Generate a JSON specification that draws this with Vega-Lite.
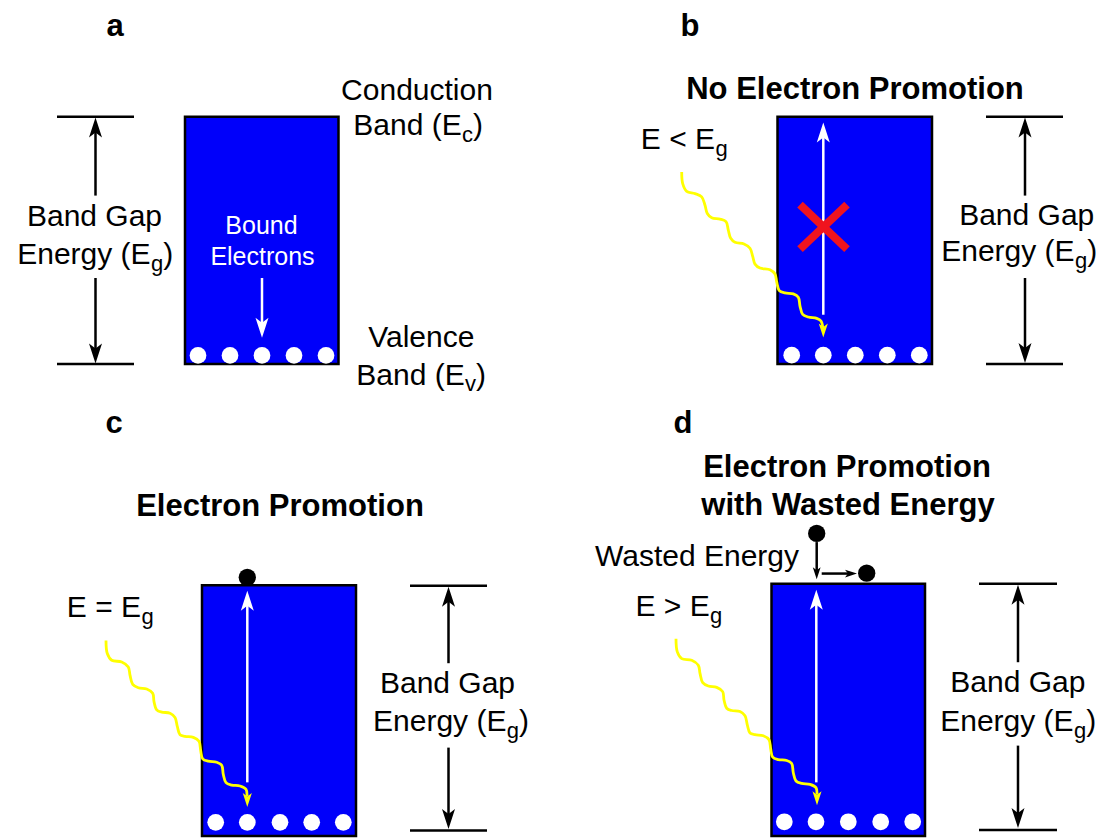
{
  "$schema": "https://vega.github.io/schema/vega-lite/v6.json",
  "width": 1112,
  "height": 838,
  "autosize": {"type": "fit", "contains": "padding"},
  "padding": 0,
  "background": "white",
  "config": {"view": {"stroke": null}},
  "datasets": {
    "boxes": [
      {"panel": "a", "x": 185, "x2": 338.5, "y": 117.5, "y2": 366.5},
      {"panel": "b", "x": 777.5, "x2": 932, "y": 117.5, "y2": 366.5},
      {"panel": "c", "x": 202, "x2": 356, "y": 589.5, "y2": 842},
      {"panel": "d", "x": 771.5, "x2": 925, "y": 588, "y2": 842}
    ],
    "blackLines": [
      {"id": "a-top", "k": 0, "x": 57, "y": 117.5}, {"id": "a-top", "k": 1, "x": 134, "y": 117.5},
      {"id": "a-bot", "k": 0, "x": 57, "y": 366.5}, {"id": "a-bot", "k": 1, "x": 134, "y": 366.5},
      {"id": "a-up", "k": 0, "x": 95.5, "y": 197}, {"id": "a-up", "k": 1, "x": 95.5, "y": 130},
      {"id": "a-dn", "k": 0, "x": 95.5, "y": 280}, {"id": "a-dn", "k": 1, "x": 95.5, "y": 355},
      {"id": "b-top", "k": 0, "x": 986, "y": 117.5}, {"id": "b-top", "k": 1, "x": 1063, "y": 117.5},
      {"id": "b-bot", "k": 0, "x": 986, "y": 366.5}, {"id": "b-bot", "k": 1, "x": 1063, "y": 366.5},
      {"id": "b-up", "k": 0, "x": 1025, "y": 197}, {"id": "b-up", "k": 1, "x": 1025, "y": 130},
      {"id": "b-dn", "k": 0, "x": 1025, "y": 280}, {"id": "b-dn", "k": 1, "x": 1025, "y": 355},
      {"id": "c-top", "k": 0, "x": 410, "y": 590}, {"id": "c-top", "k": 1, "x": 487, "y": 590},
      {"id": "c-bot", "k": 0, "x": 410, "y": 836.5}, {"id": "c-bot", "k": 1, "x": 487, "y": 836.5},
      {"id": "c-up", "k": 0, "x": 448.5, "y": 668}, {"id": "c-up", "k": 1, "x": 448.5, "y": 603},
      {"id": "c-dn", "k": 0, "x": 448.5, "y": 753}, {"id": "c-dn", "k": 1, "x": 448.5, "y": 824},
      {"id": "d-top", "k": 0, "x": 979, "y": 588}, {"id": "d-top", "k": 1, "x": 1057, "y": 588},
      {"id": "d-bot", "k": 0, "x": 979, "y": 836}, {"id": "d-bot", "k": 1, "x": 1057, "y": 836},
      {"id": "d-up", "k": 0, "x": 1018, "y": 667}, {"id": "d-up", "k": 1, "x": 1018, "y": 601},
      {"id": "d-dn", "k": 0, "x": 1018, "y": 751}, {"id": "d-dn", "k": 1, "x": 1018, "y": 823},
      {"id": "d-w1", "k": 0, "x": 816.7, "y": 546}, {"id": "d-w1", "k": 1, "x": 816.7, "y": 578},
      {"id": "d-w2", "k": 0, "x": 821.7, "y": 577.7}, {"id": "d-w2", "k": 1, "x": 852, "y": 577.7}
    ],
    "whiteLines": [
      {"id": "a", "k": 0, "x": 262, "y": 280}, {"id": "a", "k": 1, "x": 262, "y": 332},
      {"id": "b", "k": 0, "x": 823.3, "y": 317}, {"id": "b", "k": 1, "x": 823.3, "y": 136},
      {"id": "c", "k": 0, "x": 247.3, "y": 788}, {"id": "c", "k": 1, "x": 247.3, "y": 607},
      {"id": "d", "k": 0, "x": 816.3, "y": 788}, {"id": "d", "k": 1, "x": 816.3, "y": 606}
    ],
    "cross": [
      {"id": "x1", "k": 0, "x": 800, "y": 206}, {"id": "x1", "k": 1, "x": 847, "y": 251},
      {"id": "x2", "k": 0, "x": 800, "y": 251}, {"id": "x2", "k": 1, "x": 847, "y": 206}
    ],
    "photons": [
      {"id": "b", "k": 0, "x": 681.7, "y": 173.3}, {"id": "b", "k": 1, "x": 682.7, "y": 185},
      {"id": "b", "k": 2, "x": 686.7, "y": 192.7}, {"id": "b", "k": 3, "x": 695, "y": 195},
      {"id": "b", "k": 4, "x": 701.7, "y": 198.3}, {"id": "b", "k": 5, "x": 705, "y": 206.7},
      {"id": "b", "k": 6, "x": 707.3, "y": 215}, {"id": "b", "k": 7, "x": 711.7, "y": 219.3},
      {"id": "b", "k": 8, "x": 720, "y": 220.7}, {"id": "b", "k": 9, "x": 726, "y": 223.3},
      {"id": "b", "k": 10, "x": 728.3, "y": 231.7}, {"id": "b", "k": 11, "x": 730.7, "y": 240},
      {"id": "b", "k": 12, "x": 735, "y": 244}, {"id": "b", "k": 13, "x": 744, "y": 245.7},
      {"id": "b", "k": 14, "x": 750, "y": 250}, {"id": "b", "k": 15, "x": 752.7, "y": 258.3},
      {"id": "b", "k": 16, "x": 755, "y": 266}, {"id": "b", "k": 17, "x": 760, "y": 270},
      {"id": "b", "k": 18, "x": 770, "y": 271.7}, {"id": "b", "k": 19, "x": 775, "y": 276},
      {"id": "b", "k": 20, "x": 776.7, "y": 284}, {"id": "b", "k": 21, "x": 779.3, "y": 292.7},
      {"id": "b", "k": 22, "x": 785, "y": 295}, {"id": "b", "k": 23, "x": 793.3, "y": 296},
      {"id": "b", "k": 24, "x": 798.3, "y": 299.3}, {"id": "b", "k": 25, "x": 800, "y": 308.3},
      {"id": "b", "k": 26, "x": 802.7, "y": 316.7}, {"id": "b", "k": 27, "x": 808.3, "y": 319.3},
      {"id": "b", "k": 28, "x": 816.7, "y": 320.7}, {"id": "b", "k": 29, "x": 821, "y": 323.3},
      {"id": "b", "k": 30, "x": 822.8, "y": 330},
      {"id": "c", "k": 0, "x": 106, "y": 645}, {"id": "c", "k": 1, "x": 107.3, "y": 658.3},
      {"id": "c", "k": 2, "x": 111.7, "y": 665}, {"id": "c", "k": 3, "x": 121.7, "y": 666.7},
      {"id": "c", "k": 4, "x": 128.3, "y": 671.7}, {"id": "c", "k": 5, "x": 130, "y": 680},
      {"id": "c", "k": 6, "x": 132.7, "y": 689.3}, {"id": "c", "k": 7, "x": 138.3, "y": 692.7},
      {"id": "c", "k": 8, "x": 146.7, "y": 694}, {"id": "c", "k": 9, "x": 152.7, "y": 698.3},
      {"id": "c", "k": 10, "x": 154, "y": 706.7}, {"id": "c", "k": 11, "x": 156.7, "y": 715},
      {"id": "c", "k": 12, "x": 161.7, "y": 717.3}, {"id": "c", "k": 13, "x": 170, "y": 718.3},
      {"id": "c", "k": 14, "x": 175, "y": 722.7}, {"id": "c", "k": 15, "x": 177.3, "y": 731.7},
      {"id": "c", "k": 16, "x": 180, "y": 740}, {"id": "c", "k": 17, "x": 185, "y": 741.7},
      {"id": "c", "k": 18, "x": 193.3, "y": 742.7}, {"id": "c", "k": 19, "x": 199, "y": 746.7},
      {"id": "c", "k": 20, "x": 200.7, "y": 756}, {"id": "c", "k": 21, "x": 202.7, "y": 764.3},
      {"id": "c", "k": 22, "x": 208.3, "y": 766.7}, {"id": "c", "k": 23, "x": 216.7, "y": 767.7},
      {"id": "c", "k": 24, "x": 221.7, "y": 770.7}, {"id": "c", "k": 25, "x": 223.3, "y": 780},
      {"id": "c", "k": 26, "x": 226, "y": 788.3}, {"id": "c", "k": 27, "x": 231.7, "y": 790.7},
      {"id": "c", "k": 28, "x": 240, "y": 791.7}, {"id": "c", "k": 29, "x": 246, "y": 795},
      {"id": "c", "k": 30, "x": 247, "y": 802},
      {"id": "d", "k": 0, "x": 676, "y": 643.3}, {"id": "d", "k": 1, "x": 677.3, "y": 656.6},
      {"id": "d", "k": 2, "x": 681.7, "y": 663.3}, {"id": "d", "k": 3, "x": 691.7, "y": 665},
      {"id": "d", "k": 4, "x": 698.3, "y": 670}, {"id": "d", "k": 5, "x": 700, "y": 678.3},
      {"id": "d", "k": 6, "x": 702.7, "y": 687.6}, {"id": "d", "k": 7, "x": 708.3, "y": 691},
      {"id": "d", "k": 8, "x": 716.7, "y": 692.3}, {"id": "d", "k": 9, "x": 722.7, "y": 696.6},
      {"id": "d", "k": 10, "x": 724, "y": 705}, {"id": "d", "k": 11, "x": 726.7, "y": 713.3},
      {"id": "d", "k": 12, "x": 731.7, "y": 715.6}, {"id": "d", "k": 13, "x": 740, "y": 716.6},
      {"id": "d", "k": 14, "x": 745, "y": 721}, {"id": "d", "k": 15, "x": 747.3, "y": 730},
      {"id": "d", "k": 16, "x": 750, "y": 738.3}, {"id": "d", "k": 17, "x": 755, "y": 740},
      {"id": "d", "k": 18, "x": 763.3, "y": 741}, {"id": "d", "k": 19, "x": 769, "y": 745},
      {"id": "d", "k": 20, "x": 770.7, "y": 754.3}, {"id": "d", "k": 21, "x": 772.7, "y": 762.6},
      {"id": "d", "k": 22, "x": 778.3, "y": 765}, {"id": "d", "k": 23, "x": 786.7, "y": 766},
      {"id": "d", "k": 24, "x": 791.7, "y": 769}, {"id": "d", "k": 25, "x": 793.3, "y": 778.3},
      {"id": "d", "k": 26, "x": 796, "y": 786.6}, {"id": "d", "k": 27, "x": 801.7, "y": 789},
      {"id": "d", "k": 28, "x": 810, "y": 790}, {"id": "d", "k": 29, "x": 816, "y": 793.3},
      {"id": "d", "k": 30, "x": 817, "y": 800.3}
    ],
    "electrons": [
      {"state": "bound", "x": 198, "y": 358}, {"state": "bound", "x": 230, "y": 358},
      {"state": "bound", "x": 262, "y": 358}, {"state": "bound", "x": 294, "y": 358},
      {"state": "bound", "x": 326, "y": 358},
      {"state": "bound", "x": 791.7, "y": 357.7}, {"state": "bound", "x": 823.3, "y": 357.7},
      {"state": "bound", "x": 855.3, "y": 357.7}, {"state": "bound", "x": 887.3, "y": 357.7},
      {"state": "bound", "x": 919.3, "y": 357.7},
      {"state": "bound", "x": 215.7, "y": 828.3}, {"state": "bound", "x": 247.3, "y": 828.3},
      {"state": "bound", "x": 280, "y": 828.3}, {"state": "bound", "x": 311.7, "y": 828.3},
      {"state": "bound", "x": 343.3, "y": 828.3},
      {"state": "bound", "x": 784.3, "y": 827.7}, {"state": "bound", "x": 816, "y": 827.7},
      {"state": "bound", "x": 848.3, "y": 827.7}, {"state": "bound", "x": 880.7, "y": 827.7},
      {"state": "bound", "x": 912.7, "y": 827.7},
      {"state": "free", "x": 247.3, "y": 581.5},
      {"state": "free", "x": 816.7, "y": 537.3},
      {"state": "free", "x": 866.7, "y": 577.3}
    ],
    "heads": [
      {"role": "gap", "dir": "up", "x": 95.5, "y": 128.5}, {"role": "gap", "dir": "down", "x": 95.5, "y": 356},
      {"role": "gap", "dir": "up", "x": 1025, "y": 128.5}, {"role": "gap", "dir": "down", "x": 1025, "y": 355.5},
      {"role": "gap", "dir": "up", "x": 448.5, "y": 601}, {"role": "gap", "dir": "down", "x": 448.5, "y": 825},
      {"role": "gap", "dir": "up", "x": 1018, "y": 599}, {"role": "gap", "dir": "down", "x": 1018, "y": 824},
      {"role": "transition", "dir": "down", "x": 262, "y": 330},
      {"role": "transition", "dir": "up", "x": 823.3, "y": 133.5},
      {"role": "transition", "dir": "up", "x": 247.3, "y": 605},
      {"role": "transition", "dir": "up", "x": 816.3, "y": 604},
      {"role": "photon", "dir": "down", "x": 823.3, "y": 333},
      {"role": "photon", "dir": "down", "x": 247.3, "y": 805.7},
      {"role": "photon", "dir": "down", "x": 817, "y": 804},
      {"role": "waste", "dir": "down", "x": 816.7, "y": 577.5},
      {"role": "waste", "dir": "right", "x": 851, "y": 577.7}
    ],
    "labels": [
      {"role": "heading", "text": "a", "x": 115, "y": 36},
      {"role": "heading", "text": "b", "x": 690, "y": 36},
      {"role": "heading", "text": "c", "x": 114, "y": 436.5},
      {"role": "heading", "text": "d", "x": 683, "y": 436},
      {"role": "heading", "text": "No Electron Promotion", "x": 855, "y": 99.3},
      {"role": "heading", "text": "Electron Promotion", "x": 280, "y": 520},
      {"role": "heading", "text": "Electron Promotion", "x": 847, "y": 480.7},
      {"role": "heading", "text": "with Wasted Energy", "x": 848, "y": 519},
      {"role": "label", "text": "Band Gap", "x": 94.5, "y": 227.7},
      {"role": "label", "text": "Band Gap", "x": 1026.7, "y": 226.7},
      {"role": "label", "text": "Band Gap", "x": 447.5, "y": 698.3},
      {"role": "label", "text": "Band Gap", "x": 1017.8, "y": 697.3},
      {"role": "label", "text": "Conduction", "x": 417, "y": 100.7},
      {"role": "label", "text": "Valence", "x": 421.3, "y": 350},
      {"role": "label", "text": "Wasted Energy", "x": 697, "y": 570},
      {"role": "symbol", "text": "Energy (E", "x": 150.6, "y": 266},
      {"role": "symbol", "text": "Energy (E", "x": 1074.6, "y": 263.3},
      {"role": "symbol", "text": "Energy (E", "x": 506.4, "y": 736.7},
      {"role": "symbol", "text": "Energy (E", "x": 1073.6, "y": 736},
      {"role": "symbol", "text": "Band (E", "x": 461.7, "y": 136},
      {"role": "symbol", "text": "Band (E", "x": 464.7, "y": 387.3},
      {"role": "symbol", "text": "E < E", "x": 715, "y": 150},
      {"role": "symbol", "text": "E = E", "x": 141, "y": 621.7},
      {"role": "symbol", "text": "E > E", "x": 709.7, "y": 620},
      {"role": "subscript", "text": "g", "x": 151, "y": 273},
      {"role": "subscript", "text": "g", "x": 1075, "y": 270.3},
      {"role": "subscript", "text": "g", "x": 506.8, "y": 743.7},
      {"role": "subscript", "text": "g", "x": 1074, "y": 743},
      {"role": "subscript", "text": "c", "x": 462, "y": 143},
      {"role": "subscript", "text": "v", "x": 465, "y": 394.3},
      {"role": "subscript", "text": "g", "x": 715.4, "y": 157},
      {"role": "subscript", "text": "g", "x": 141.4, "y": 628.7},
      {"role": "subscript", "text": "g", "x": 710.1, "y": 627},
      {"role": "closing", "text": ")", "x": 163.3, "y": 266},
      {"role": "closing", "text": ")", "x": 1087.3, "y": 263.3},
      {"role": "closing", "text": ")", "x": 519.1, "y": 736.7},
      {"role": "closing", "text": ")", "x": 1086.3, "y": 736},
      {"role": "closing", "text": ")", "x": 473, "y": 136},
      {"role": "closing", "text": ")", "x": 476, "y": 387.3},
      {"role": "inside", "text": "Bound", "x": 261.5, "y": 235.7},
      {"role": "inside", "text": "Electrons", "x": 262.5, "y": 267}
    ]
  },
  "encoding": {
    "x": {"field": "x", "type": "quantitative", "scale": {"domain": [0, 1112], "nice": false, "zero": false}, "axis": null},
    "y": {"field": "y", "type": "quantitative", "scale": {"domain": [0, 838], "nice": false, "zero": false, "reverse": true}, "axis": null}
  },
  "layer": [
    {
      "data": {"name": "boxes"},
      "mark": {"type": "rect", "fill": "#0000fa", "stroke": "black", "strokeWidth": 2.5},
      "encoding": {"x2": {"field": "x2"}, "y2": {"field": "y2"}}
    },
    {
      "data": {"name": "electrons"},
      "transform": [{"filter": "datum.state === 'bound'"}],
      "mark": {"type": "point", "shape": "circle", "filled": true, "color": "white", "opacity": 1, "size": 280, "strokeWidth": 0}
    },
    {
      "data": {"name": "electrons"},
      "transform": [{"filter": "datum.state === 'free'"}],
      "mark": {"type": "point", "shape": "circle", "filled": true, "color": "black", "opacity": 1, "size": 300, "strokeWidth": 0}
    },
    {
      "data": {"name": "whiteLines"},
      "mark": {"type": "line", "color": "white", "strokeWidth": 2.5},
      "encoding": {"detail": {"field": "id"}, "order": {"field": "k"}}
    },
    {
      "data": {"name": "cross"},
      "mark": {"type": "line", "color": "#f0141e", "strokeWidth": 8},
      "encoding": {"detail": {"field": "id"}, "order": {"field": "k"}}
    },
    {
      "data": {"name": "photons"},
      "mark": {"type": "line", "color": "#ffff00", "strokeWidth": 2.8, "interpolate": "catmull-rom"},
      "encoding": {"detail": {"field": "id"}, "order": {"field": "k"}}
    },
    {
      "data": {"name": "blackLines"},
      "mark": {"type": "line", "color": "black", "strokeWidth": 2.5},
      "encoding": {"detail": {"field": "id"}, "order": {"field": "k"}}
    },
    {
      "data": {"name": "heads"},
      "transform": [{"filter": "datum.role === 'gap'"}],
      "mark": {"type": "point", "filled": true, "color": "black", "opacity": 1, "size": 400, "strokeWidth": 0},
      "encoding": {"shape": {"field": "dir", "type": "nominal", "scale": {"domain": ["up", "down", "right"], "range": ["M0,-1L0.65,1L0,0.5L-0.65,1Z", "M0,1L0.65,-1L0,-0.5L-0.65,-1Z", "M1,0L-1,0.65L-0.5,0L-1,-0.65Z"]}, "legend": null}}
    },
    {
      "data": {"name": "heads"},
      "transform": [{"filter": "datum.role === 'transition'"}],
      "mark": {"type": "point", "filled": true, "color": "white", "opacity": 1, "size": 400, "strokeWidth": 0},
      "encoding": {"shape": {"field": "dir", "type": "nominal", "legend": null}}
    },
    {
      "data": {"name": "heads"},
      "transform": [{"filter": "datum.role === 'photon'"}],
      "mark": {"type": "point", "filled": true, "color": "#ffff00", "opacity": 1, "size": 196, "strokeWidth": 0},
      "encoding": {"shape": {"field": "dir", "type": "nominal", "legend": null}}
    },
    {
      "data": {"name": "heads"},
      "transform": [{"filter": "datum.role === 'waste'"}],
      "mark": {"type": "point", "filled": true, "color": "black", "opacity": 1, "size": 144, "strokeWidth": 0},
      "encoding": {"shape": {"field": "dir", "type": "nominal", "legend": null}}
    },
    {
      "data": {"name": "labels"},
      "transform": [{"filter": "datum.role === 'heading'"}],
      "mark": {"type": "text", "font": "Liberation Sans", "fontSize": 31, "fontWeight": "bold", "align": "center", "baseline": "alphabetic", "color": "black"},
      "encoding": {"text": {"field": "text"}}
    },
    {
      "data": {"name": "labels"},
      "transform": [{"filter": "datum.role === 'label'"}],
      "mark": {"type": "text", "font": "Liberation Sans", "fontSize": 30, "align": "center", "baseline": "alphabetic", "color": "black"},
      "encoding": {"text": {"field": "text"}}
    },
    {
      "data": {"name": "labels"},
      "transform": [{"filter": "datum.role === 'symbol'"}],
      "mark": {"type": "text", "font": "Liberation Sans", "fontSize": 30, "align": "right", "baseline": "alphabetic", "color": "black"},
      "encoding": {"text": {"field": "text"}}
    },
    {
      "data": {"name": "labels"},
      "transform": [{"filter": "datum.role === 'subscript'"}],
      "mark": {"type": "text", "font": "Liberation Sans", "fontSize": 22, "align": "left", "baseline": "alphabetic", "color": "black"},
      "encoding": {"text": {"field": "text"}}
    },
    {
      "data": {"name": "labels"},
      "transform": [{"filter": "datum.role === 'closing'"}],
      "mark": {"type": "text", "font": "Liberation Sans", "fontSize": 30, "align": "left", "baseline": "alphabetic", "color": "black"},
      "encoding": {"text": {"field": "text"}}
    },
    {
      "data": {"name": "labels"},
      "transform": [{"filter": "datum.role === 'inside'"}],
      "mark": {"type": "text", "font": "Liberation Sans", "fontSize": 25, "align": "center", "baseline": "alphabetic", "color": "white"},
      "encoding": {"text": {"field": "text"}}
    }
  ]
}
